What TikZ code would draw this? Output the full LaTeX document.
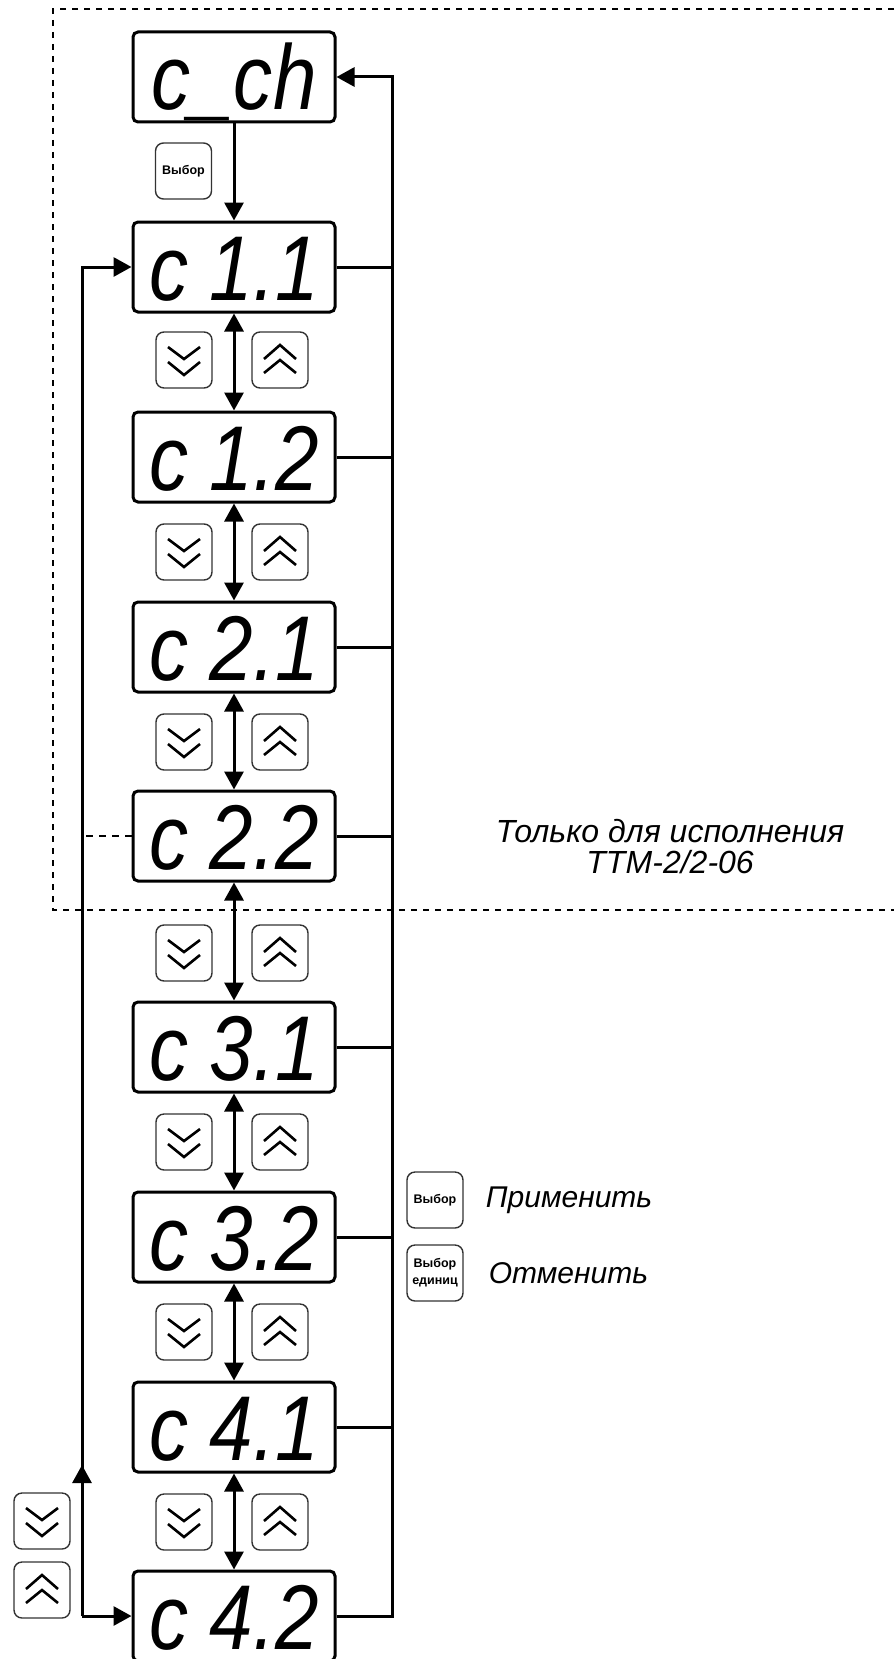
\documentclass[tikz,border=0pt]{standalone}
\usepackage{fontspec}
\setmainfont{Liberation Sans}
\newfontfamily\segfont[FakeStretch=0.85]{Liberation Sans}
\usepackage{tikz}
\usetikzlibrary{arrows.meta,positioning,calc}

\begin{document}
\begin{tikzpicture}[
    x=1pt, y=-1pt,
    disp/.style={draw, line width=3pt, rounded corners=5pt, minimum width=202pt, minimum height=90pt,
      inner sep=0pt, text height=66pt, text depth=0pt, font=\segfont\itshape\fontsize{92}{92}\selectfont},
    key/.style={draw=black!80, line width=1.4pt, rounded corners=8pt, minimum width=56pt, minimum height=56pt,
      inner sep=0pt, align=center, font=\bfseries\fontsize{12.5}{17}\selectfont},
    chev/.style={line width=2.6pt},
    ln/.style={line width=3pt},
    arr/.style={-{Triangle[length=18pt,width=19pt]}, line width=3pt},
    dbl/.style={{Triangle[length=18pt,width=19pt]}-{Triangle[length=18pt,width=19pt]}, line width=3pt},
    frame/.style={dash pattern=on 6pt off 6pt, line width=1.6pt},
    lbl/.style={inner sep=0pt, font=\itshape\fontsize{30}{31}\selectfont}
  ]
    \useasboundingbox (0,0) rectangle (894,1659);
    \draw[frame] (894,9) -| (53,910) -- (894,910);

    \node[disp] (cch) at (234,77) {c\_ch};
    \foreach \n/\t/\y in {c11/c 1.1/267, c12/c 1.2/457, c21/c 2.1/647, c22/c 2.2/836,
                          c31/c 3.1/1047, c32/c 3.2/1237, c41/c 4.1/1427, c42/c 4.2/1616} {
      \node[disp] (\n) at (234,\y) {\t};
    }

    \draw[arr] (cch) -- (c11);
    \foreach \a/\b in {c11/c12, c12/c21, c21/c22, c22/c31, c31/c32, c32/c41, c41/c42} {
      \draw[dbl] (\a) -- (\b);
    }

    \draw[arr] (c42.east) -- ++(56,0) |- (cch.east);
    \foreach \n in {c11, c12, c21, c22, c31, c32, c41} {
      \draw[ln] (\n.east) -- ++(56,0);
    }

    \coordinate (lcor) at (82,1616);
    \coordinate (lmid) at (82,1465);
    \draw[arr] (lcor) |- (c11.west);
    \draw[arr] (lcor) -- (lmid);
    \draw[arr] (lcor) -- (c42.west);
    \draw[line width=2pt, dash pattern=on 7pt off 6pt] (c22.west) -- (c22.west -| lcor);

    \node[key] (sel) at (183.5,171) {Выбор};
    \foreach \y [count=\k] in {360, 552, 742, 953, 1142, 1332, 1522} {
      \node[key] (dn\k) at (184,\y) {};
      \node[key] (up\k) at (280,\y) {};
    }
    \node[key] (dnw) at (42,1521) {};
    \node[key] (upw) at (42,1590) {};
    \foreach \k in {dn1, dn2, dn3, dn4, dn5, dn6, dn7, dnw} {
      \draw[chev] ($(\k)+(-16,-13)$) -- ++(16,12) -- ++(16,-12);
      \draw[chev] ($(\k)+(-16,2)$) -- ++(16,13) -- ++(16,-13);
    }
    \foreach \k in {up1, up2, up3, up4, up5, up6, up7, upw} {
      \draw[chev] ($(\k)+(-16,-1)$) -- ++(16,-14) -- ++(16,14);
      \draw[chev] ($(\k)+(-16,13)$) -- ++(16,-13) -- ++(16,13);
    }

    \node[key] (selA) at (435,1200) {Выбор};
    \node[key] (selB) at (435,1273) {Выбор\\единиц};
    \node[lbl, right=22pt of selA] (apply) {Применить};
    \node[lbl, right=25pt of selB] (cancel) {Отменить};
    \node[lbl, align=center, font=\itshape\fontsize{32}{31}\selectfont] (note) at (670,847)
      {Только для исполнения\\ТТМ-2/2-06};
  \end{tikzpicture}
\end{document}
